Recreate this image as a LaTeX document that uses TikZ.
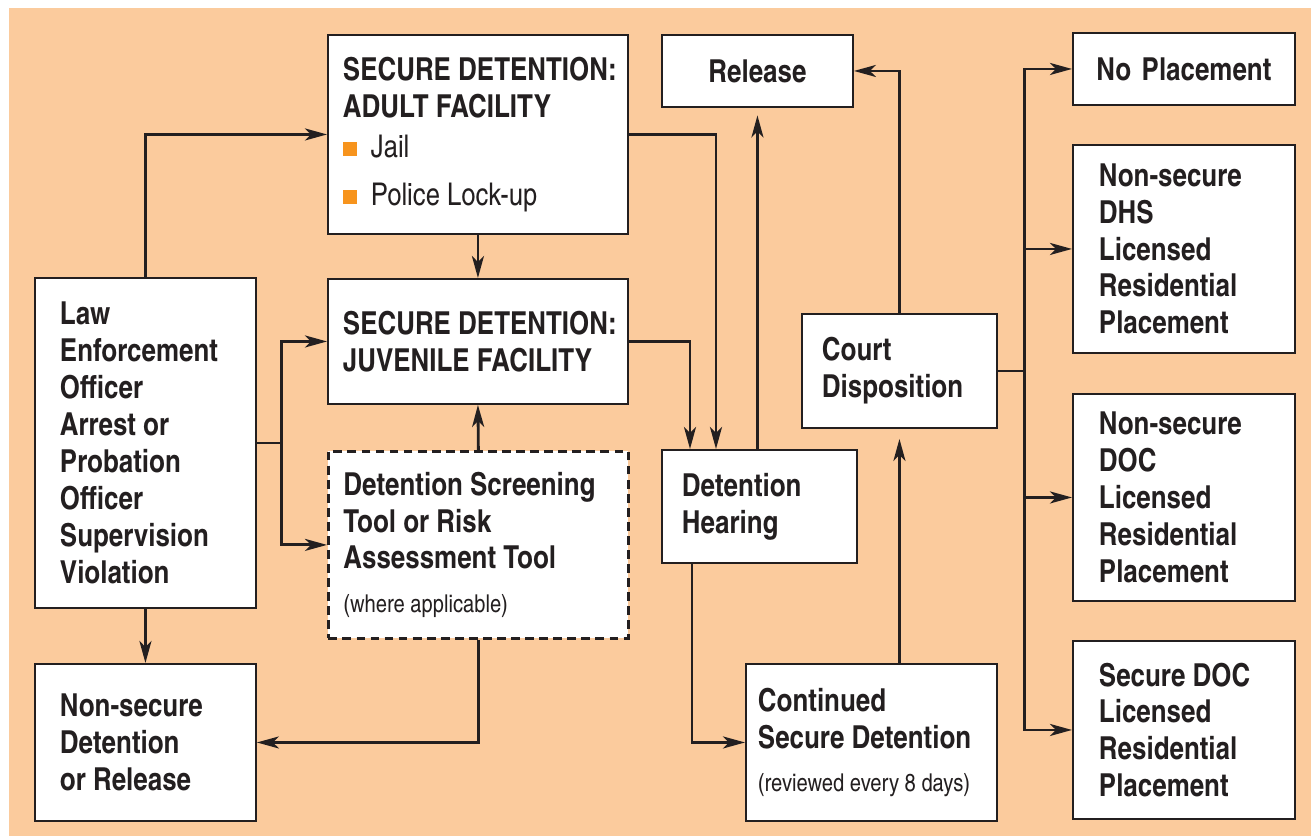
\documentclass[tikz,border=0pt]{standalone}
\usepackage{fontspec}
\setmainfont{TeX Gyre Heros Cn}
\usetikzlibrary{arrows.meta,calc}

\definecolor{peche}{RGB}{251,203,157}
\definecolor{orangeP}{RGB}{247,148,29}
\definecolor{trait}{RGB}{35,31,32}

\newcommand{\puce}[1]{{\color{orangeP}\raisebox{0.03cm}{\rule{0.28cm}{0.28cm}}}\hspace{0.28cm}{\mdseries\fontsize{17.8}{21}\selectfont #1}}
\newcommand{\petit}[1]{{\mdseries\fontsize{14}{17}\selectfont #1}}

\tikzset{
  boite/.style={draw=trait, line width=1.1pt, fill=white, anchor=north west,
    align=flush left, inner ysep=0pt, text=trait,
    font=\bfseries\fontsize{18}{21}\selectfont},
  fleche/.style={draw=trait, line width=1.6pt,
    -{Stealth[length=0.44cm,width=0.24cm,inset=0.12cm]}},
  ligne/.style={draw=trait, line width=1.6pt},
}

\begin{document}
\begin{tikzpicture}[x=0.02cm,y=-0.02cm]
  % Fond
  \useasboundingbox (0,0) rectangle (1311,836);
  \fill[peche] (9,8) rectangle (1311,836);

  % Arrestation et sortie
  \node[boite, inner xsep=0.5cm, text width=3.42cm, minimum height=6.6cm] (police) at (34,277)
    {Law\\Enforcement\\Officer\\Arrest or\\Probation\\Officer\\Supervision\\Violation};
  \node[boite, inner xsep=0.5cm, text width=3.42cm, minimum height=3.14cm] (nonsecure) at (34,663)
    {Non-secure\\Detention\\or Release};

  % Etablissements
  \node[boite, inner xsep=0.3cm, text width=5.4cm, minimum height=3.98cm] (adulte) at (327,34)
    {\mbox{SECURE DETENTION:}\\ADULT FACILITY\\[2pt]\puce{Jail}\\[6pt]\puce{Police Lock-up}};
  \node[boite, inner xsep=0.3cm, text width=5.4cm, minimum height=2.5cm] (juvenile) at (327,278)
    {\mbox{SECURE DETENTION:}\\JUVENILE FACILITY};
  \node[boite, line width=1.6pt, dash pattern=on 5pt off 3pt, inner xsep=0.3cm, text width=5.4cm, minimum height=3.74cm] (depistage) at (327,450)
    {Detention Screening\\Tool or Risk\\Assessment Tool\\[4pt]\petit{(where applicable)}};

  % Audience et decision
  \node[boite, align=center, inner xsep=0.2cm, text width=3.42cm, minimum height=1.44cm] (liberation) at (661,34)
    {Release};
  \node[boite, inner xsep=0.4cm, text width=3.1cm, minimum height=2.26cm] (audience) at (661,449)
    {Detention\\Hearing};
  \node[boite, inner xsep=0.4cm, text width=3.1cm, minimum height=2.28cm] (decision) at (801,313)
    {Court\\Disposition};
  \node[boite, inner xsep=0.24cm, text width=4.54cm, minimum height=3.14cm] (continue) at (745,663)
    {Continued\\Secure Detention\\[3pt]\petit{(reviewed every 8 days)}};

  % Placements
  \node[boite, align=center, inner xsep=0.2cm, text width=4.04cm, minimum height=1.44cm] (aucune) at (1072,32)
    {No Placement};
  \node[boite, inner xsep=0.52cm, text width=3.4cm, minimum height=4.16cm] (dhs) at (1072,144)
    {Non-secure\\DHS\\Licensed\\Residential\\Placement};
  \node[boite, inner xsep=0.52cm, text width=3.4cm, minimum height=4.14cm] (doc) at (1072,393)
    {Non-secure\\DOC\\Licensed\\Residential\\Placement};
  \node[boite, inner xsep=0.52cm, text width=3.4cm, minimum height=3.56cm] (securedoc) at (1072,640)
    {Secure DOC\\Licensed\\Residential\\Placement};

  % Fleches depuis l'arrestation
  \draw[fleche] (police.north) |- (adulte.west);
  \coordinate (embr) at ([xshift=0.5cm]police.east);
  \draw[ligne] (police.east) -- (embr);
  \draw[fleche] (embr) |- (juvenile.west);
  \draw[fleche] (embr) |- (depistage.west);
  \draw[fleche] (police.south) -- (nonsecure.north);

  % Fleches entre etablissements
  \draw[fleche] (adulte.south) -- (juvenile.north);
  \draw[fleche] (depistage.north) -- (juvenile.south);
  \draw[fleche] (depistage.south) |- (nonsecure.east);

  % Fleches vers et depuis l'audience
  \draw[fleche] (adulte.east) -| ([xshift=1.1cm]audience.north west);
  \draw[fleche] (juvenile.east) -| ([xshift=0.58cm]audience.north west);
  \draw[fleche, shorten >=0.15cm] (liberation.south |- audience.north) -- (liberation.south);
  \draw[fleche] ([xshift=0.62cm]audience.south west) |- (continue.west);
  \draw[fleche, shorten >=0.2cm] (decision.south |- continue.north) -- (decision.south);
  \draw[fleche] (decision.north) |- (liberation.east);

  % Fleches vers les placements
  \coordinate (tronc) at ([xshift=0.54cm]decision.east);
  \draw[ligne] (decision.east) -- (tronc);
  \foreach \b in {aucune,dhs,doc,securedoc}
    \draw[fleche] (tronc) |- (\b.west);
\end{tikzpicture}
\end{document}
